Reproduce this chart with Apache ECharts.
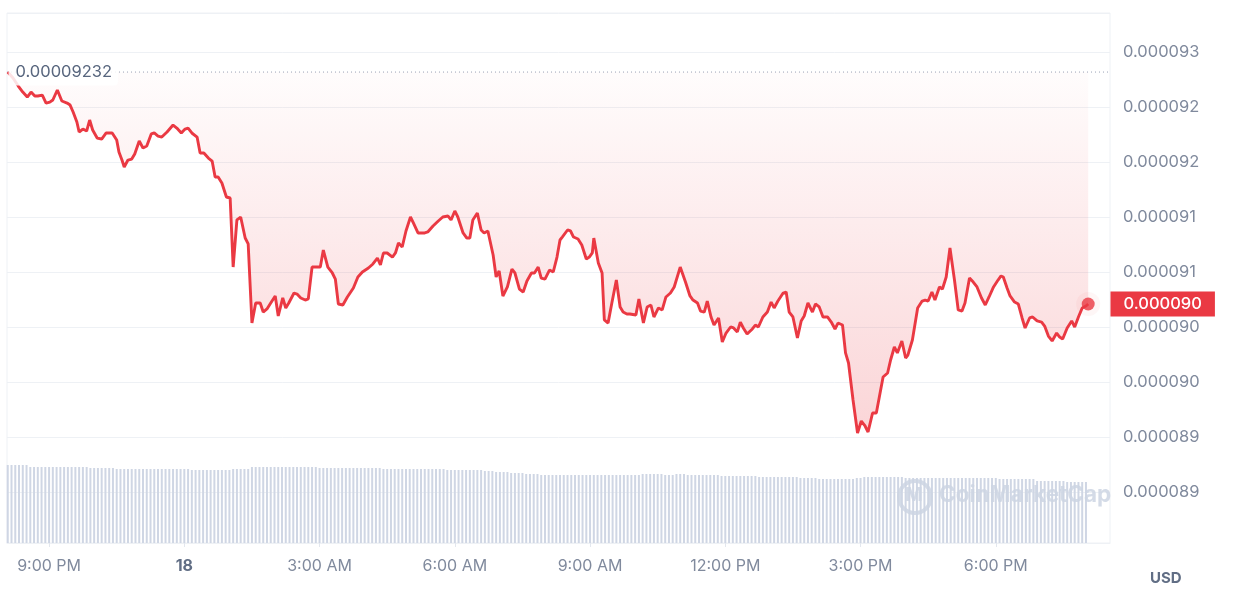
<!DOCTYPE html>
<html>
<head>
<meta charset="utf-8">
<script src="https://cdn.jsdelivr.net/npm/echarts@6/dist/echarts.min.js"></script>
<style>html,body{margin:0;padding:0;background:#fff}#c{width:1237px;height:603px}</style>
</head>
<body>
<div id="c"></div>
<script>
// minutes from 00:00 on the 18th
const times = [-235,-228,-221,-215,-209,-204,-199,-195,-189,-184,
-179,-175,-169,-163,-156,-152,-148,-143,-140,-135,
-130,-126,-122,-116,-110,-104,-96,-90,-87,-83,
-80,-75,-70,-66,-60,-55,-50,-44,-40,-35,
-30,-23,-15,-10,-4,1,5,10,17,21,
26,32,37,41,45,50,56,61,65,70,
75,81,85,90,95,101,105,110,115,121,
125,131,135,139,146,150,155,161,165,170,
177,181,185,191,197,201,205,211,217,225,
231,237,245,251,257,261,265,270,277,281,
285,290,295,301,305,311,316,320,324,331,
338,344,351,355,360,364,371,376,380,384,
390,395,399,404,411,415,419,424,430,436,
440,446,451,456,462,466,471,475,480,486,
491,496,500,503,510,514,518,524,529,535,
539,543,545,551,556,559,564,569,575,580,
584,589,593,601,605,611,616,621,625,631,
636,641,647,652,660,667,673,677,683,687,
692,696,701,705,711,716,721,727,731,736,
740,744,749,756,760,764,770,776,781,785,
790,797,801,805,810,816,821,825,830,836,
840,845,850,856,861,866,870,876,880,884,
890,896,901,906,910,916,921,925,930,936,
940,945,949,955,960,963,969,976,982,986,
990,995,999,1005,1009,1014,1019,1025,1030,1035,
1039,1045,1050,1055,1061,1066,1071,1077,1083,1087,
1090,1095,1099,1105,1110,1115,1119,1125,1129,1135,
1141,1145,1150,1155,1161,1165,1169,1175,1181,1185,
1190,1195,1200,1203];

// price in USD
const prices = [92.318e-6,92.264e-6,92.191e-6,92.136e-6,92.091e-6,92.136e-6,92.100e-6,92.100e-6,92.109e-6,92.036e-6,
92.045e-6,92.064e-6,92.155e-6,92.055e-6,92.036e-6,92.018e-6,91.955e-6,91.864e-6,91.773e-6,91.800e-6,
91.782e-6,91.882e-6,91.791e-6,91.718e-6,91.709e-6,91.764e-6,91.764e-6,91.700e-6,91.591e-6,91.518e-6,
91.455e-6,91.518e-6,91.527e-6,91.573e-6,91.691e-6,91.627e-6,91.645e-6,91.755e-6,91.764e-6,91.736e-6,
91.727e-6,91.773e-6,91.836e-6,91.809e-6,91.764e-6,91.800e-6,91.809e-6,91.764e-6,91.727e-6,91.582e-6,
91.582e-6,91.536e-6,91.509e-6,91.364e-6,91.364e-6,91.309e-6,91.182e-6,91.173e-6,90.545e-6,90.973e-6,
91.000e-6,90.809e-6,90.755e-6,90.036e-6,90.218e-6,90.218e-6,90.136e-6,90.164e-6,90.218e-6,90.282e-6,
90.100e-6,90.264e-6,90.173e-6,90.218e-6,90.309e-6,90.300e-6,90.264e-6,90.245e-6,90.255e-6,90.545e-6,
90.545e-6,90.545e-6,90.700e-6,90.545e-6,90.491e-6,90.436e-6,90.209e-6,90.200e-6,90.273e-6,90.355e-6,
90.455e-6,90.500e-6,90.536e-6,90.573e-6,90.627e-6,90.564e-6,90.673e-6,90.673e-6,90.636e-6,90.673e-6,
90.764e-6,90.727e-6,90.873e-6,91.000e-6,90.945e-6,90.855e-6,90.855e-6,90.855e-6,90.864e-6,90.918e-6,
90.964e-6,91.000e-6,91.009e-6,90.973e-6,91.055e-6,91.000e-6,90.855e-6,90.809e-6,90.809e-6,90.973e-6,
91.036e-6,90.882e-6,90.855e-6,90.873e-6,90.655e-6,90.455e-6,90.509e-6,90.282e-6,90.364e-6,90.527e-6,
90.491e-6,90.345e-6,90.318e-6,90.418e-6,90.491e-6,90.491e-6,90.545e-6,90.445e-6,90.436e-6,90.518e-6,
90.500e-6,90.636e-6,90.791e-6,90.818e-6,90.882e-6,90.873e-6,90.818e-6,90.800e-6,90.745e-6,90.618e-6,
90.636e-6,90.673e-6,90.809e-6,90.582e-6,90.491e-6,90.064e-6,90.036e-6,90.218e-6,90.427e-6,90.182e-6,
90.136e-6,90.118e-6,90.118e-6,90.109e-6,90.255e-6,90.036e-6,90.182e-6,90.200e-6,90.091e-6,90.173e-6,
90.155e-6,90.273e-6,90.309e-6,90.364e-6,90.545e-6,90.409e-6,90.282e-6,90.245e-6,90.218e-6,90.145e-6,
90.136e-6,90.236e-6,90.091e-6,90.018e-6,90.082e-6,89.864e-6,89.945e-6,90.000e-6,89.991e-6,89.955e-6,
90.045e-6,89.991e-6,89.936e-6,89.982e-6,90.018e-6,90.000e-6,90.091e-6,90.136e-6,90.227e-6,90.173e-6,
90.236e-6,90.309e-6,90.318e-6,90.136e-6,90.091e-6,89.900e-6,90.055e-6,90.100e-6,90.218e-6,90.136e-6,
90.209e-6,90.182e-6,90.091e-6,90.091e-6,90.045e-6,89.982e-6,90.036e-6,90.018e-6,89.764e-6,89.673e-6,
89.336e-6,89.036e-6,89.145e-6,89.100e-6,89.045e-6,89.218e-6,89.218e-6,89.364e-6,89.545e-6,89.582e-6,
89.700e-6,89.818e-6,89.764e-6,89.873e-6,89.718e-6,89.745e-6,89.882e-6,90.173e-6,90.236e-6,90.245e-6,
90.236e-6,90.318e-6,90.245e-6,90.364e-6,90.345e-6,90.455e-6,90.718e-6,90.427e-6,90.155e-6,90.145e-6,
90.218e-6,90.445e-6,90.409e-6,90.364e-6,90.264e-6,90.200e-6,90.273e-6,90.364e-6,90.427e-6,90.464e-6,
90.455e-6,90.355e-6,90.282e-6,90.227e-6,90.209e-6,90.082e-6,89.991e-6,90.082e-6,90.091e-6,90.055e-6,
90.045e-6,90.009e-6,89.918e-6,89.873e-6,89.945e-6,89.909e-6,89.891e-6,89.991e-6,90.055e-6,90.000e-6,
90.091e-6,90.173e-6,90.191e-6,90.209e-6];

// 24h volume bars (relative units), one every 5 minutes from volStart
const volStart = -235, volStep = 5;
const volumes = [
78,78,78,78,78,78,
76,76,76,76,76,76,76,76,76,76,76,76,76,76,76,76,
75,75,75,75,75,75,75,
74,74,74,74,74,74,74,74,74,74,74,74,74,74,74,74,74,74,74,74,
73,73,73,73,73,73,73,73,73,73,73,
74,74,74,74,74,
76,76,76,76,76,76,76,76,76,76,76,76,76,76,76,76,76,76,
75,75,75,75,75,75,75,75,75,75,75,75,75,75,75,75,75,
74,74,74,74,74,74,74,74,74,74,74,74,74,74,74,74,74,
73,73,73,73,73,73,73,73,73,73,
72,72,72,
71,71,71,71,
70,70,70,70,
69,69,69,69,
68,68,68,68,68,68,68,68,68,68,68,68,68,68,68,68,68,68,68,68,68,68,68,68,68,68,68,
69,69,69,69,69,69,
68,68,68,
69,69,69,
68,68,68,68,68,68,68,68,68,
67,67,67,67,67,67,67,67,67,67,
66,66,66,66,66,66,66,66,66,66,66,
65,65,65,65,65,
64,64,64,64,64,64,64,64,64,64,
65,65,
66,66,66,66,66,66,66,66,66,66,66,
65,65,65,65,65,65,65,65,65,65,65,65,65,65,65,65,65,65,65,65,65,65,65,65,65,
64,64,64,64,64,64,64,64,64,64,
62,62,62,62,62,62,62,62,
61,61,61,61,61,61];

const tickMinutes = [-180, 0, 180, 360, 540, 720, 900, 1080];
const tickLabels = ['9:00 PM', '18', '3:00 AM', '6:00 AM', '9:00 AM', '12:00 PM', '3:00 PM', '6:00 PM'];
const dateLabels = ['18'];

const xMin = -236, xMax = 1232;
const yMin = 88.036e-6, yMax = 92.855e-6;

const openPrice = prices[0];
const lastPrice = prices[prices.length - 1];
const RED = '#ea3943';
const FONT = 'Inter';

function fmt6(v) { return (Math.round(v * 1e6 + 1e-6) / 1e6).toFixed(6); }

const lineData = times.map((t, i) => [t, prices[i]]);
const volData = volumes.map((v, i) => [volStart + i * volStep, v]);
const lastPt = lineData[lineData.length - 1];
const openLine = [[xMin, openPrice], [xMax, openPrice]];

const chart = echarts.init(document.getElementById('c'), null, {renderer: 'canvas'});
chart.setOption({
  animation: false,
  backgroundColor: '#ffffff',
  grid: [
    {left: 7, right: 127, top: 13, bottom: 60, show: true, borderColor: '#eef1f5', borderWidth: 1, backgroundColor: 'transparent'},
    {left: 7, right: 127, top: 443, bottom: 60}
  ],
  xAxis: [
    {
      type: 'value', gridIndex: 0, min: xMin, max: xMax,
      axisLine: {show: true, lineStyle: {color: '#eef1f5'}},
      splitLine: {show: false},
      axisTick: {show: true, length: 4, lineStyle: {color: '#e3e7ee'}, customValues: tickMinutes},
      axisLabel: {
        customValues: tickMinutes, margin: 15, color: '#808a9d', fontSize: 16, fontFamily: FONT,
        formatter: function (val) {
          const i = tickMinutes.indexOf(Math.round(val));
          const s = i >= 0 ? tickLabels[i] : '';
          return dateLabels.indexOf(s) >= 0 ? '{b|' + s + '}' : s;
        },
        rich: {b: {fontWeight: 'bold', color: '#616e85', fontSize: 16, fontFamily: FONT}}
      }
    },
    {type: 'value', gridIndex: 1, min: xMin, max: xMax, show: false}
  ],
  yAxis: [
    {
      type: 'value', gridIndex: 0, position: 'right', min: yMin, max: yMax, splitNumber: 10, scale: true,
      axisLine: {show: false}, axisTick: {show: false},
      splitLine: {show: true, lineStyle: {color: '#eef1f5', width: 1}},
      axisLabel: {
        margin: 13, color: '#808a9d', fontSize: 16.5, fontFamily: FONT,
        showMinLabel: false, showMaxLabel: false,
        formatter: function (v) { return fmt6(v); }
      }
    },
    {type: 'value', gridIndex: 1, min: 0, max: 100, show: false}
  ],
  graphic: [
    {type: 'text', left: 1150, top: 571, style: {text: 'USD', font: 'bold 15px Inter', fill: '#616e85'}},
    {type: 'circle', shape: {cx: 915, cy: 497, r: 16}, style: {fill: 'none', stroke: 'rgba(205,213,227,0.85)', lineWidth: 4}, z: 100},
    {type: 'text', x: 905, y: 486, style: {text: 'M', font: 'bold 19px Inter', fill: 'rgba(205,213,227,0.85)'}, z: 100},
    {type: 'text', x: 939, y: 484, style: {text: 'CoinMarketCap', font: 'bold 22.5px Inter', fill: 'rgba(205,213,227,0.85)'}, z: 100}
  ],
  series: [
    {
      type: 'bar', xAxisIndex: 1, yAxisIndex: 1, data: volData, barWidth: 2,
      itemStyle: {color: '#cfd6e4'}, silent: true, z: 1
    },
    {
      type: 'line', xAxisIndex: 0, yAxisIndex: 0, data: openLine,
      showSymbol: false, symbol: 'none', silent: true,
      lineStyle: {color: '#9aa3b6', type: [1, 3], width: 1}, z: 2
    },
    {
      type: 'line', xAxisIndex: 0, yAxisIndex: 0, data: lineData,
      showSymbol: false, symbol: 'none', smooth: false,
      lineStyle: {color: RED, width: 2.9},
      areaStyle: {
        origin: openPrice,
        color: new echarts.graphic.LinearGradient(0, 0, 0, 1, [
          {offset: 0, color: 'rgba(234,57,67,0.02)'},
          {offset: 1, color: 'rgba(234,57,67,0.30)'}
        ])
      },
      z: 3,
      markPoint: {
        silent: true, symbol: 'circle', symbolSize: 1, itemStyle: {color: 'rgba(0,0,0,0)'},
        data: [
          {coord: [xMin, openPrice], value: openPrice,
           label: {show: true, position: 'right', distance: 1, formatter: openPrice.toFixed(8),
                   color: '#58667e', fontSize: 16.5, fontFamily: FONT,
                   backgroundColor: 'rgba(255,255,255,0.85)', padding: [5, 6, 5, 7], borderRadius: 4}},
          {coord: [xMax, lastPrice], value: lastPrice,
           label: {show: true, position: 'right', distance: 0, formatter: fmt6(lastPrice),
                   backgroundColor: RED, color: '#ffffff', fontSize: 16.5, fontWeight: 500, fontFamily: FONT,
                   padding: [4, 13, 4, 13]}}
        ]
      }
    },
    {
      type: 'scatter', xAxisIndex: 0, yAxisIndex: 0, data: [lastPt], symbolSize: 24,
      itemStyle: {color: 'rgba(234,57,67,0.06)'}, silent: true, z: 4
    },
    {
      type: 'scatter', xAxisIndex: 0, yAxisIndex: 0, data: [lastPt], symbolSize: 13,
      itemStyle: {color: RED}, silent: true, z: 5
    }
  ]
});
</script>
</body>
</html>
